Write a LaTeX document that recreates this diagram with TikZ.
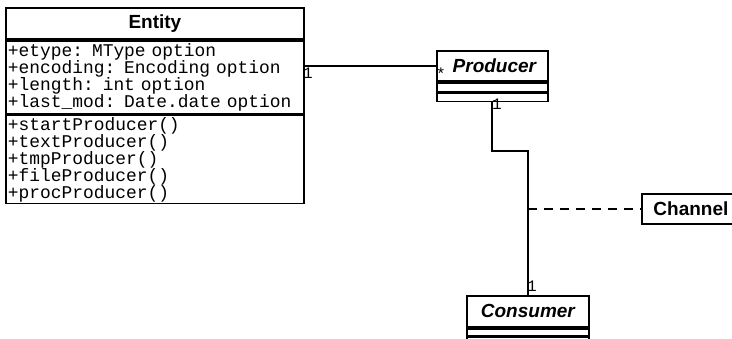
\documentclass[tikz,border=0pt]{standalone}
\usepackage{fontspec}
\setmainfont{Liberation Sans}
\newfontfamily\monof{Liberation Mono}
\begin{document}
\begin{tikzpicture}[x=1pt,y=-1pt,
  box/.style={draw, line width=1.8pt, inner sep=0pt, anchor=north west},
  ttl/.style={font=\fontsize{19}{19}\selectfont\bfseries},
  ttli/.style={font=\fontsize{19}{19}\selectfont\bfseries\itshape},
  mono/.style={font=\monof\fontsize{17.9}{17}\selectfont, align=left, inner xsep=2pt},
  lbl/.style={font=\monof\fontsize{16}{16}\selectfont, inner sep=0pt},
  assoc/.style={line width=1.3pt},
  thickline/.style={line width=2pt},
  dashedline/.style={line width=2pt, dash pattern=on 9pt off 7pt}]
\clip (0,0) rectangle (732,339);
\useasboundingbox (0,0) rectangle (732,339);
% Entity
\node[box, ttl, minimum width=298pt, minimum height=31pt] (etitle) at (5,7) {Entity};
\node[box, mono, minimum width=298pt, minimum height=73pt, text width=294pt] (eattr) at (etitle.south west)
  {+etype: MType option\\+encoding: Encoding option\\+length: int option\\+last\_mod: Date.date option};
\node[box, mono, minimum width=298pt, minimum height=88pt, text width=294pt] (emeth) at (eattr.south west)
  {+startProducer()\\+textProducer()\\+tmpProducer()\\+fileProducer()\\+procProducer()};
% Producer
\node[box, ttli, minimum width=111pt, minimum height=30pt] (ptitle) at (436,50) {\hspace*{4pt}Producer};
\node[box, minimum width=111pt, minimum height=9pt] (pattr) at (ptitle.south west) {};
\node[box, minimum width=111pt, minimum height=8pt] (pmeth) at (pattr.south west) {};
% Consumer
\node[box, ttli, minimum width=122pt, minimum height=31pt] (ctitle) at (466,295) {Consumer};
\node[box, minimum width=122pt, minimum height=7pt] (cattr) at (ctitle.south west) {};
\node[box, minimum width=122pt, minimum height=8pt] (cmeth) at (cattr.south west) {};
% Channel
\node[box, ttl, minimum width=98pt, minimum height=30pt] (channel) at (641,193) {Channel};
% connectors
\draw[assoc] (etitle.east |- ptitle.west) -- (ptitle.west);
\draw[thickline] (pmeth.south) -- ++(0,49) coordinate (bend) -| (ctitle.north);
\draw[dashedline] (channel.west -| ctitle.north) -- (channel.west);
% multiplicities
\node[lbl] (m1) at (308,73) {1};
\node[lbl] (m2) at (441,74) {*};
\node[lbl] (m3) at (497,104) {1};
\node[lbl] (m4) at (532,286) {1};
\end{tikzpicture}
\end{document}
